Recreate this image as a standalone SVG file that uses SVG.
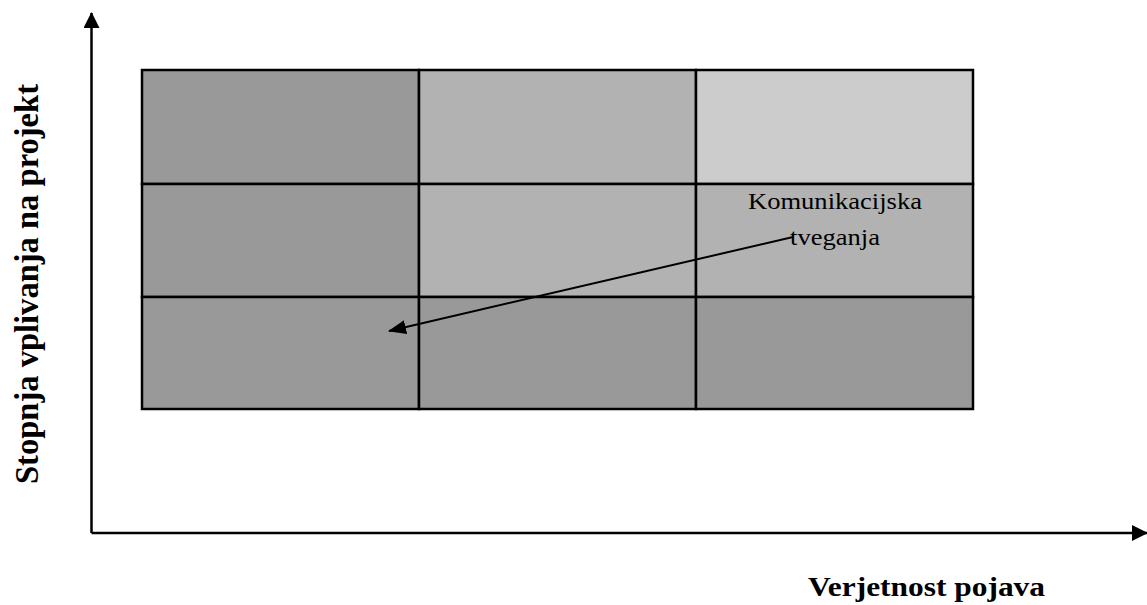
<svg xmlns="http://www.w3.org/2000/svg" width="1147" height="605" viewBox="0 0 1147 605">
  <style>
    .cell { stroke: #000; stroke-width: 2.5; }
    .d { fill: #999999; }
    .m { fill: #b2b2b2; }
    .l { fill: #cccccc; }
    .axis { stroke: #000; stroke-width: 2.5; fill: none; }
    .conn { stroke: #000; stroke-width: 2; fill: none; }
    .lbl { font-family: "Liberation Serif", "Times New Roman", serif; fill: #000; }
    .ax { font-family: "Liberation Serif", "Times New Roman", serif; font-weight: bold; fill: #000; }
  </style>
  <defs>
    <marker id="axhead" markerUnits="userSpaceOnUse" markerWidth="16" markerHeight="16" refX="15" refY="8" orient="auto">
      <path d="M0,0 L16,8 L0,16 z" fill="#000"/>
    </marker>
    <marker id="arhead" markerUnits="userSpaceOnUse" markerWidth="18" markerHeight="14" refX="17" refY="7" orient="auto">
      <path d="M0,0 L18,7 L0,14 z" fill="#000"/>
    </marker>
  </defs>

  <g id="axes">
    <line class="axis" x1="91.5" y1="533" x2="91.5" y2="13" marker-end="url(#axhead)"/>
    <line class="axis" x1="91.5" y1="533" x2="1147" y2="533" marker-end="url(#axhead)"/>
  </g>

  <g id="grid">
    <rect id="c11" class="cell d" x="142" y="70" width="277" height="114"/>
    <rect id="c12" class="cell m" x="419" y="70" width="277" height="114"/>
    <rect id="c13" class="cell l" x="696" y="70" width="277" height="114"/>
    <rect id="c21" class="cell d" x="142" y="184" width="277" height="113"/>
    <rect id="c22" class="cell m" x="419" y="184" width="277" height="113"/>
    <rect id="c23" class="cell m" x="696" y="184" width="277" height="113"/>
    <rect id="c31" class="cell d" x="142" y="297" width="277" height="112"/>
    <rect id="c32" class="cell d" x="419" y="297" width="277" height="112"/>
    <rect id="c33" class="cell d" x="696" y="297" width="277" height="112"/>
  </g>

  <g id="label-komunikacijska">
    <text class="lbl" x="748" y="209" font-size="24" textLength="174" lengthAdjust="spacingAndGlyphs">Komunikacijska</text>
    <text class="lbl" x="790" y="245" font-size="24" textLength="90" lengthAdjust="spacingAndGlyphs">tveganja</text>
  </g>

  <g id="connectors">
    <line class="conn" x1="793" y1="237" x2="389" y2="331" marker-end="url(#arhead)"/>
  </g>

  <g id="axis-labels">
    <text class="ax" x="808" y="596" font-size="28" textLength="237" lengthAdjust="spacingAndGlyphs">Verjetnost pojava</text>
    <text class="ax" transform="translate(38,484) rotate(-90)" x="0" y="0" font-size="34" textLength="400" lengthAdjust="spacingAndGlyphs">Stopnja vplivanja na projekt</text>
  </g>
</svg>
